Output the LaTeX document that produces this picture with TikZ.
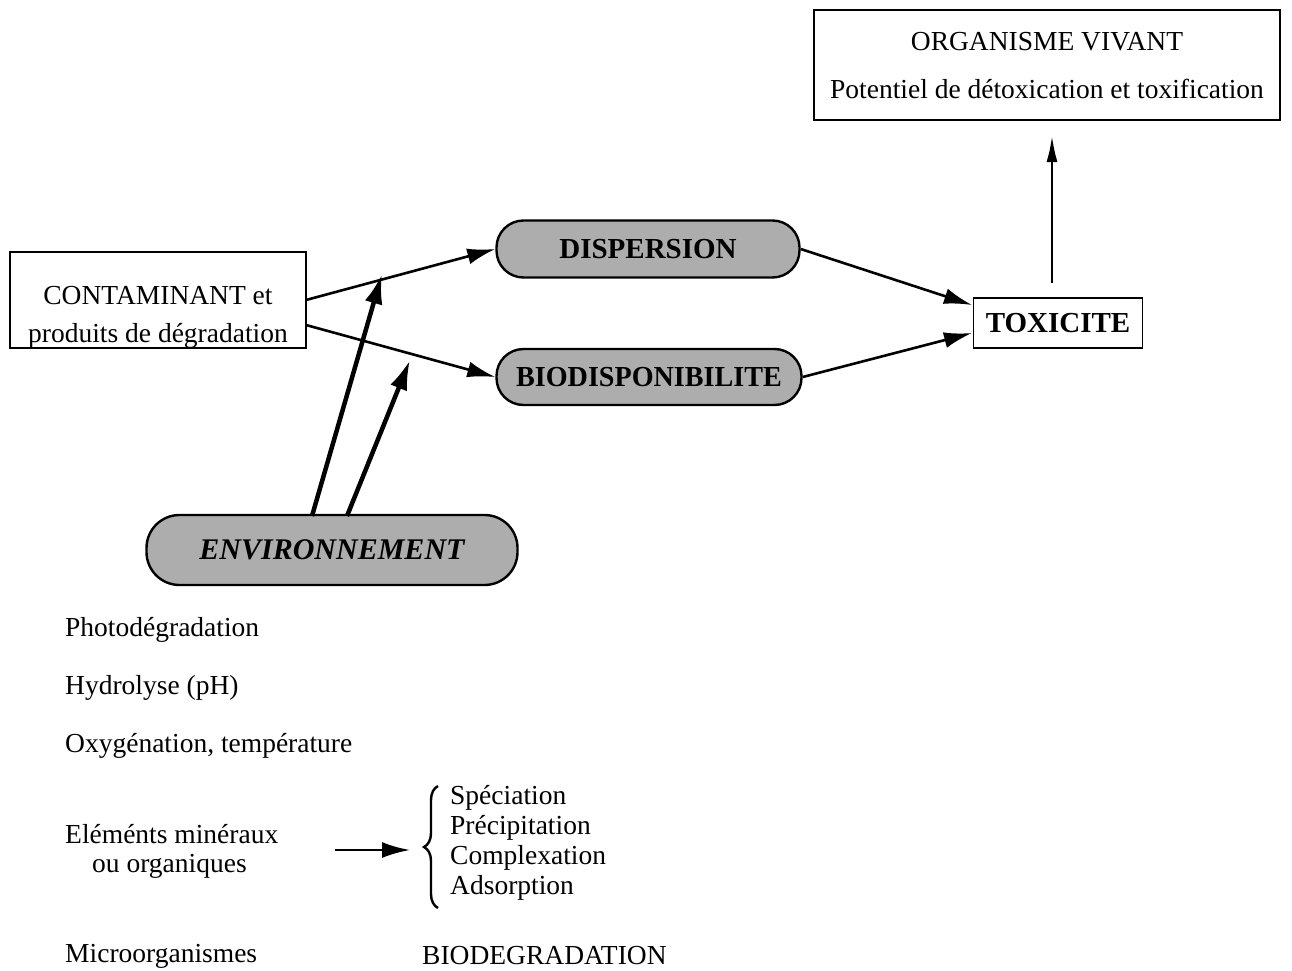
\documentclass[tikz,border=0pt]{standalone}
\usepackage{fontspec}
\setmainfont{Liberation Serif}
\usetikzlibrary{arrows.meta,decorations.pathreplacing}
\begin{document}
\begin{tikzpicture}[x=1pt,y=-1pt,
  txt/.style={font=\fontsize{27.5}{32}\selectfont, inner sep=0pt},
  rbox/.style={draw, line width=1.6pt, inner sep=0pt},
  pill/.style={draw, line width=2.4pt, rounded corners=27pt, fill=black!32, inner sep=0pt,
    font=\fontsize{29}{32}\selectfont\bfseries},
  conn/.style={line width=2.6pt, -{Latex[length=28pt,width=16pt]}},
  thick conn/.style={line width=4.5pt, -{Latex[length=30pt,width=18pt]}},
]
\useasboundingbox (0,0) rectangle (1292,971);
% boxes
\node[rbox, minimum width=466pt, minimum height=110pt] (org) at (1047,65) {};
\node[txt] (orgA) at (1047,42) {ORGANISME VIVANT};
\node[txt] (orgB) at (1047,89) {Potentiel de détoxication et toxification};
\node[rbox, minimum width=169pt, minimum height=50pt, font=\fontsize{29}{32}\selectfont\bfseries] (tox) at (1058,323) {TOXICITE};
\node[rbox, minimum width=296pt, minimum height=96pt] (cont) at (158,300) {};
\node[txt] (contA) at (158,296) {CONTAMINANT et};
\node[txt] (contB) at (158,336) {produits de dégradation};
% pills
\node[pill, minimum width=303pt, minimum height=57pt] (disp) at (648,249) {DISPERSION};
\node[pill, minimum width=305pt, minimum height=56pt, font=\fontsize{29}{32}\selectfont\bfseries] (bio) at (649,377) {\scalebox{0.97}[1]{BIODISPONIBILITE}};
\node[pill, minimum width=371pt, minimum height=70pt, rounded corners=33pt, font=\fontsize{30}{32}\selectfont\bfseries\itshape] (env) at (332,550) {ENVIRONNEMENT};
% connectors
\coordinate (c1) at (306,300);
\coordinate (c2) at (306,325);
\coordinate (e1) at (312,516);
\coordinate (e2) at (347,516);
\coordinate (t1) at (382,274);
\coordinate (t2) at (410,360);
\coordinate (x1) at (972,305);
\coordinate (x2) at (972,333);
\coordinate (v0) at (1052,283);
\coordinate (v1) at (1052,136);
\draw[conn] (c1) -- (disp.west);
\draw[conn] (c2) -- (bio.west);
\draw[conn] (disp.east) -- (x1);
\draw[conn] (bio.east) -- (x2);
\draw[line width=2.2pt, -{Latex[length=26pt,width=11pt]}] (v0) -- (v1);
\draw[thick conn] (e1) -- (t1);
\draw[thick conn] (e2) -- (t2);
% lower text
\node[txt, anchor=west] (p1) at (65,630) {Photodégradation};
\node[txt, anchor=west] (p2) at (65,688) {Hydrolyse (pH)};
\node[txt, anchor=west] (p3) at (65,746) {Oxygénation, température};
\node[txt, anchor=west] (p4) at (65,834) {Eléménts minéraux};
\node[txt, anchor=west] (p5) at (92,866) {ou organiques};
\node[txt, anchor=west] (p6) at (65,956) {Microorganismes};
\node[txt, anchor=west] (bd) at (422,956) {BIODEGRADATION};
\coordinate (a0) at (335,850);
\coordinate (a1) at (410,850);
\draw[conn] (a0) -- (a1);
\draw[line width=2.4pt, decorate, decoration={brace, amplitude=14pt, mirror}] (438,786) -- (438,908);
\node[txt, anchor=west] (s1) at (450,798) {Spéciation};
\node[txt, anchor=west] (s2) at (450,828) {Précipitation};
\node[txt, anchor=west] (s3) at (450,858) {Complexation};
\node[txt, anchor=west] (s4) at (450,888) {Adsorption};
\end{tikzpicture}
\end{document}
